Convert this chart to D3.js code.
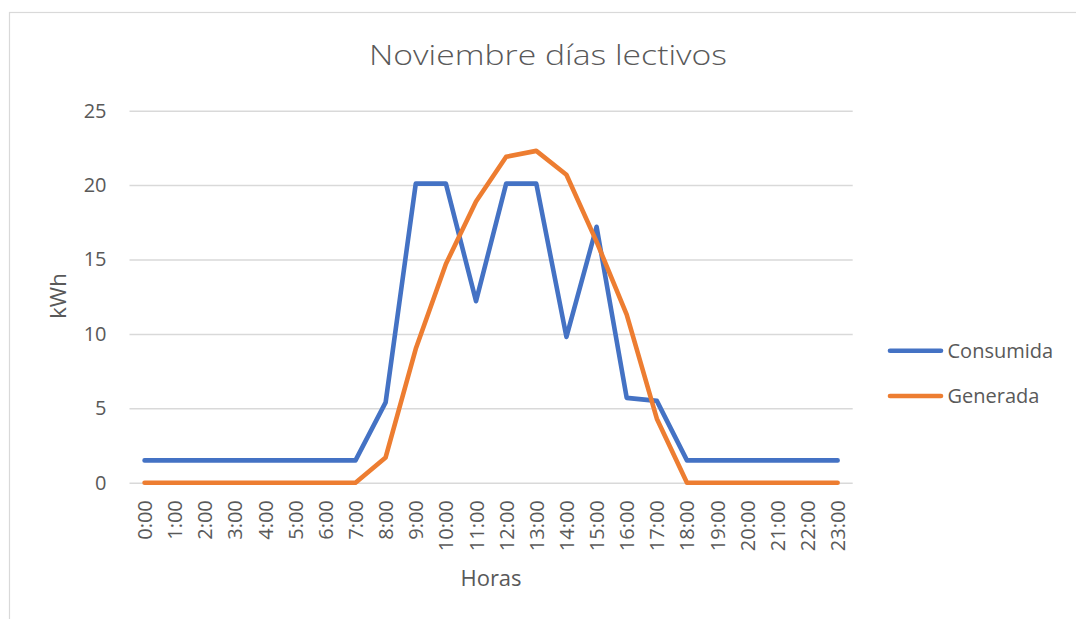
<!DOCTYPE html>
<html>
<head>
<meta charset="utf-8">
<script src="https://cdn.jsdelivr.net/npm/d3@7"></script>
<style>
  html, body { margin: 0; padding: 0; background: #fff; }
  svg { display: block; font-family: "Open Sans", sans-serif; }
</style>
</head>
<body>
<svg id="chart" width="1076" height="619"></svg>
<script>
// Hourly energy profile for a November school day
const hours = ["0:00","1:00","2:00","3:00","4:00","5:00","6:00","7:00","8:00","9:00","10:00","11:00",
               "12:00","13:00","14:00","15:00","16:00","17:00","18:00","19:00","20:00","21:00","22:00","23:00"];
const consumida = [1.5,1.5,1.5,1.5,1.5,1.5,1.5,1.5,5.4,20.1,20.1,12.2,
                   20.1,20.1,9.8,17.2,5.7,5.5,1.5,1.5,1.5,1.5,1.5,1.5];
const generada  = [0,0,0,0,0,0,0,0,1.7,9.0,14.7,18.9,
                   21.9,22.3,20.7,16.2,11.3,4.3,0,0,0,0,0,0];
const yTicks = [0, 5, 10, 15, 20, 25];
const seriesNames = ["Consumida", "Generada"];
const seriesColors = ["#4472C4", "#ED7D31"];

const svg = d3.select("#chart");
const textColor = "#595959";
const gridColor = "#d9d9d9";

const plot = { left: 129.5, right: 852.7, top: 110.7, bottom: 482.7 };

const x = d3.scaleBand().domain(hours).range([plot.left, plot.right]);
const y = d3.scaleLinear().domain([0, 25]).range([plot.bottom, plot.top]);
const cx = h => x(h) + x.bandwidth() / 2;

// Chart frame
svg.append("rect")
  .attr("x", 9.5).attr("y", 12.5)
  .attr("width", 1100).attr("height", 650)
  .attr("fill", "none").attr("stroke", gridColor).attr("stroke-width", 1.2);

// Title
svg.append("text")
  .attr("x", 548).attr("y", 64.5)
  .attr("text-anchor", "middle")
  .attr("font-size", 27.5)
  .attr("font-weight", 300)
  .attr("fill", textColor)
  .attr("textLength", 358)
  .attr("lengthAdjust", "spacingAndGlyphs")
  .text("Noviembre días lectivos");

// Horizontal gridlines and y axis labels
const yAxis = d3.axisLeft(y).tickValues(yTicks).tickSize(plot.right - plot.left).tickPadding(23);
const yg = svg.append("g")
  .attr("transform", `translate(${plot.right},0)`)
  .call(yAxis);
yg.select(".domain").remove();
yg.selectAll(".tick line").attr("stroke", gridColor).attr("stroke-width", 1.5);
yg.selectAll(".tick text")
  .attr("font-size", 20)
  .attr("font-family", "Open Sans, sans-serif")
  .attr("fill", textColor);

// X axis labels, rotated
const xAxis = d3.axisBottom(x).tickSize(0).tickPadding(0);
const xg = svg.append("g")
  .attr("transform", `translate(0,${plot.bottom})`)
  .call(xAxis);
xg.select(".domain").remove();
xg.selectAll(".tick text")
  .attr("font-size", 20)
  .attr("font-family", "Open Sans, sans-serif")
  .attr("fill", textColor)
  .attr("text-anchor", "end")
  .attr("dy", null)
  .attr("y", 0)
  .attr("transform", "translate(0,17.5) rotate(-90)")
  .attr("dominant-baseline", "central");

// Axis titles
svg.append("text")
  .attr("x", 491).attr("y", 586)
  .attr("text-anchor", "middle")
  .attr("font-size", 22)
  .attr("fill", textColor)
  .text("Horas");

svg.append("text")
  .attr("transform", "translate(66,296) rotate(-90)")
  .attr("text-anchor", "middle")
  .attr("font-size", 22)
  .attr("fill", textColor)
  .text("kWh");

// Series lines
const line = d3.line()
  .x((d, i) => cx(hours[i]))
  .y(d => y(d));

[consumida, generada].forEach((values, k) => {
  svg.append("path")
    .datum(values)
    .attr("d", line)
    .attr("fill", "none")
    .attr("stroke", seriesColors[k])
    .attr("stroke-width", 4.6)
    .attr("stroke-linejoin", "round")
    .attr("stroke-linecap", "round");
});

// Legend
const legend = svg.append("g");
seriesNames.forEach((name, k) => {
  const ly = 350.7 + k * 45.3;
  legend.append("line")
    .attr("x1", 890).attr("x2", 941)
    .attr("y1", ly).attr("y2", ly)
    .attr("stroke", seriesColors[k])
    .attr("stroke-width", 4.6)
    .attr("stroke-linecap", "round");
  legend.append("text")
    .attr("x", 947.5).attr("y", ly)
    .attr("dy", "0.36em")
    .attr("font-size", 20)
    .attr("fill", textColor)
    .text(name);
});
</script>
</body>
</html>
